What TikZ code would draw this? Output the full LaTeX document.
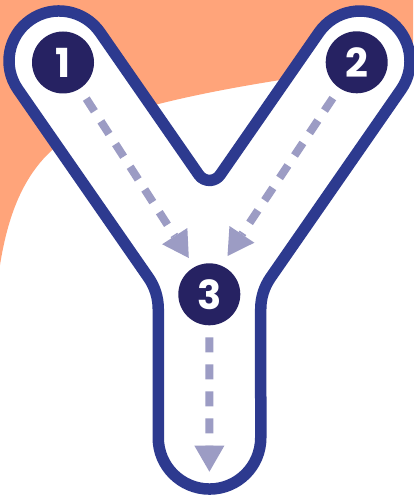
\documentclass[tikz,border=0pt]{standalone}
\usepackage{fontspec}
\newfontfamily\numfont{Poppins}
\usetikzlibrary{arrows.meta}
\definecolor{bgorange}{HTML}{FFA47A}
\definecolor{ringblue}{HTML}{2D3A8F}
\definecolor{navy}{HTML}{262262}
\definecolor{dashpurple}{HTML}{9C9CC4}
\begin{document}
\begin{tikzpicture}[x=1pt,y=-1pt,
  ring/.style={draw=ringblue,line width=11.5pt,fill=white,line join=round},
  badge/.style={circle,fill=navy,minimum size=62pt,inner sep=0pt,outer sep=0pt,text=white,
    font=\numfont\bfseries\fontsize{40}{40}\selectfont},
  flow/.style={draw=dashpurple,line width=8pt,dash pattern=on 15pt off 12pt,shorten <=12pt,
    -{Triangle[length=26pt,width=30pt,line width=0pt]}}]
\fill[white] (0,0) rectangle (413,502);
\useasboundingbox (0,0) rectangle (413,502);
\fill[bgorange] (0,0) -- (413,0) -- (413,62) .. controls (260,80) and (170,98) .. (110,118)
  .. controls (40,140) and (12,190) .. (0,265) -- cycle;
\path[ring] (17.95,89.5) arc[start angle=145.2,end angle=325.2,radius=50]
  -- (198.83,174.84) arc[start angle=145.2,end angle=34.8,radius=13]
  -- (318.95,32.5) arc[start angle=214.8,end angle=394.8,radius=50]
  -- (270.57,277.58) arc[start angle=214.8,end angle=180,radius=55]
  -- (260.75,437.8) arc[start angle=0,end angle=180,radius=51.25]
  -- (158.25,308.9) arc[start angle=0,end angle=-34.8,radius=55]
  -- cycle;
\node[badge] (n1) at (63,62.5) {1};
\node[badge] (n2) at (356.7,62.3) {2};
\node[badge] (n3) at (209.3,294.3) {3};
\coordinate (t1) at (188.8,258);
\coordinate (t2) at (227.5,256);
\coordinate (t3) at (209.4,471.7);
\draw[flow] (n1) -- (t1);
\draw[flow] (n2) -- (t2);
\draw[flow] (n3) -- (t3);
\end{tikzpicture}
\end{document}
